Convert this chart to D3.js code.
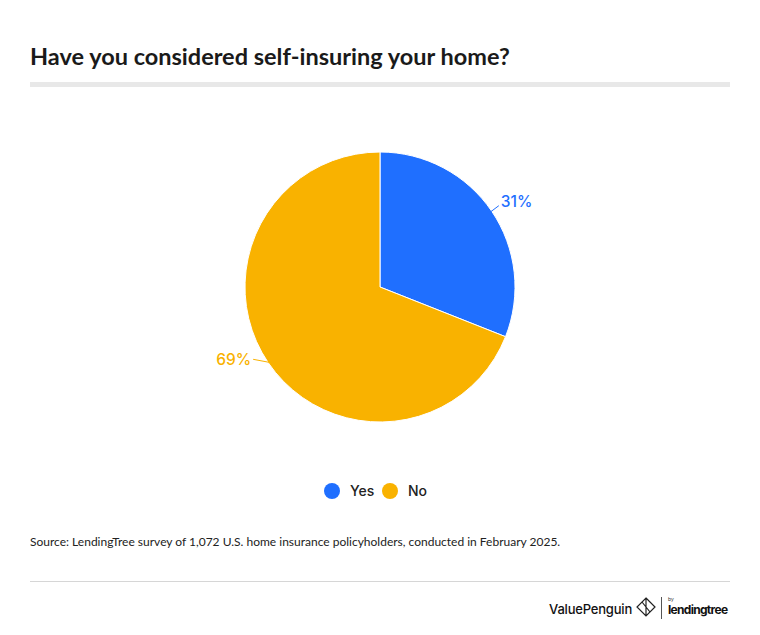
<!DOCTYPE html>
<html><head><meta charset="utf-8">
<script src="https://cdn.jsdelivr.net/npm/d3@7"></script>
<style>body{margin:0;background:#fff}svg{display:block}</style>
</head><body>
<svg id="chart" width="760" height="635"></svg>
<script>
const categories = ["Yes", "No"];
const values = [31, 69];
const labels = ["31%", "69%"];
const colors = ["#1f6fff", "#f9b200"];
const title = "Have you considered self-insuring your home?";
const source = "Source: LendingTree survey of 1,072 U.S. home insurance policyholders, conducted in February 2025.";

const svg = d3.select("#chart");
svg.append("rect").attr("width",760).attr("height",635).attr("fill","#fff");
svg.append("text").attr("x",30).attr("y",65).text(title)
  .attr("font-family","Lato").attr("font-weight",700).attr("font-size",23.5).attr("fill","#1a1a1a");
svg.append("rect").attr("x",30).attr("y",82).attr("width",700).attr("height",5).attr("fill","#e8e8e8");

const cx = 380, cy = 287, r = 135;
const pie = d3.pie().sort(null).value(d => d)(values);
const arc = d3.arc().innerRadius(0).outerRadius(r);
const g = svg.append("g").attr("transform",`translate(${cx},${cy})`);
g.selectAll("path").data(pie).join("path").attr("d",arc)
  .attr("fill",(d,i)=>colors[i]).attr("stroke","#fff").attr("stroke-width",1);

// labels with leader lines
const leader = [[8,-6],[-16,-3]];
pie.forEach((d,i)=>{
  const a = (d.startAngle+d.endAngle)/2;
  const p0 = [Math.sin(a)*(r-1), -Math.cos(a)*(r-1)];
  const dir = Math.sin(a) >= 0 ? 1 : -1;
  const p1 = [p0[0]+leader[i][0], p0[1]+leader[i][1]];
  g.append("path").attr("d", d3.line()([p0,p1])).attr("fill","none")
    .attr("stroke",colors[i]).attr("stroke-width",1);
  g.append("text").attr("x",p1[0]+dir*2).attr("y",p1[1]+(dir>0?1:6))
    .attr("text-anchor",dir>0?"start":"end").text(labels[i])
    .attr("font-family","Inter").attr("font-weight",500).attr("font-size",15.5).attr("fill",colors[i]);
});

// legend
const lg = svg.append("g");
const legendX = [332, 390];
categories.forEach((c,i)=>{
  lg.append("circle").attr("cx",legendX[i]).attr("cy",491).attr("r",8).attr("fill",colors[i]);
  lg.append("text").attr("x",legendX[i]+18).attr("y",496).text(c)
    .attr("font-family","Inter").attr("font-weight",500).attr("font-size",14).attr("fill","#222");
});

svg.append("text").attr("x",30).attr("y",546).text(source)
  .attr("font-family","Lato").attr("font-size",12).attr("fill","#222");
svg.append("rect").attr("x",30).attr("y",581).attr("width",700).attr("height",1).attr("fill","#d6d6d6");

// logos (text)
svg.append("text").attr("x",632).attr("y",614).attr("text-anchor","end").text("ValuePenguin")
  .attr("font-family","Inter").attr("font-weight",500).attr("font-size",13).attr("letter-spacing",-0.2).attr("fill","#111");
const lgo = svg.append("g").attr("transform","translate(646,607)");
lgo.append("path").attr("d","M0,-9 L9,0 L0,9 L-9,0 Z M0,-9 L0,9 M-4,-5 L4,5").attr("fill","none").attr("stroke","#222").attr("stroke-width",1.2);
svg.append("rect").attr("x",661).attr("y",597).attr("width",1).attr("height",22).attr("fill","#555");
svg.append("text").attr("x",668).attr("y",601).text("by").attr("font-family","Inter").attr("font-size",5).attr("fill","#333");
svg.append("text").attr("x",668).attr("y",614).text("lendingtree")
  .attr("font-family","Inter").attr("font-weight",700).attr("font-size",12).attr("letter-spacing",-0.7).attr("fill","#111");
</script>
</body></html>
